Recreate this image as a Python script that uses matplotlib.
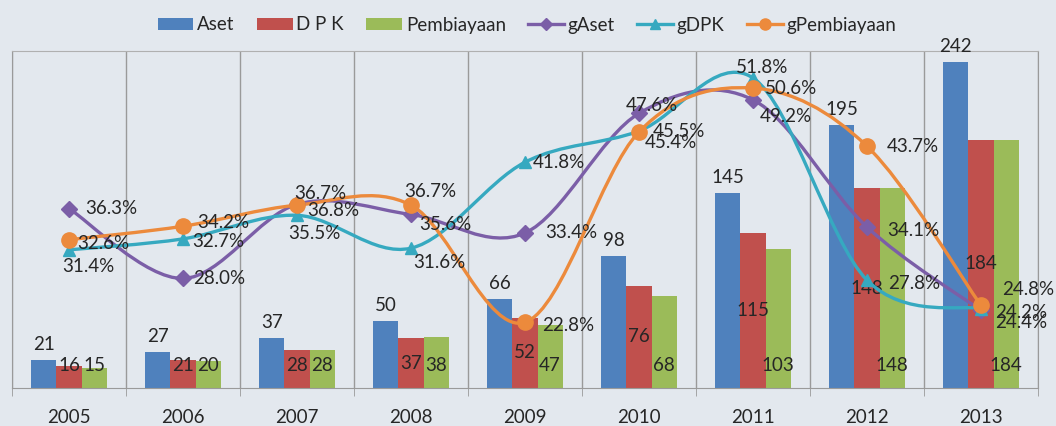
import numpy as np
import matplotlib
matplotlib.use("Agg")
import matplotlib.pyplot as plt
from matplotlib.path import Path
from matplotlib.patches import PathPatch
from matplotlib.lines import Line2D

plt.rcParams['font.family'] = ['Lato', 'DejaVu Sans']

years = ['2005', '2006', '2007', '2008', '2009', '2010', '2011', '2012', '2013']
aset = [21, 27, 37, 50, 66, 98, 145, 195, 242]
dpk = [16, 21, 28, 37, 52, 76, 115, 148, 184]
pembiayaan = [15, 20, 28, 38, 47, 68, 103, 148, 184]
g_aset = [36.3, 28.0, 36.8, 35.6, 33.4, 47.6, 49.2, 34.1, 24.2]
g_dpk = [31.4, 32.7, 35.5, 31.6, 41.8, 45.5, 51.8, 27.8, 24.4]
g_pemb = [32.6, 34.2, 36.7, 36.7, 22.8, 45.4, 50.6, 43.7, 24.8]

# label offsets in pixels (dx, dy up) and horizontal alignment
off_aset = [(16, 0, 'left'), (10, 0, 'left'), (10, -6, 'left'), (8, -10, 'left'), (20, 0, 'left'),
            (13, 8, 'center'), (7, -17, 'left'), (20, -3, 'left'), (14, -2, 'left')]
off_dpk = [(19, -17, 'center'), (9, -3, 'left'), (17, -18, 'center'), (28, -14, 'center'), (8, 0, 'left'),
           (14, 0, 'left'), (9, 10, 'center'), (21, -3, 'left'), (14, -14, 'left')]
off_pemb = [(8, -4, 'left'), (14, 4, 'left'), (23, 12, 'center'), (19, 14, 'center'), (17, -3, 'left'),
            (6, -11, 'left'), (12, 0, 'left'), (20, 0, 'left'), (21, 16, 'left')]

c_aset, c_dpk, c_pemb = '#4f81bd', '#c0504d', '#9bbb59'
c_gaset, c_gdpk, c_gpemb = '#7b5ea7', '#36a9c0', '#ec8a3c'
txt = '#262626'
fs = 13.5


def smooth_path(x, y):
    # Excel-like smoothed line: cubic Bezier through points (Catmull-Rom)
    pts = np.column_stack([x, y]).astype(float)
    n = len(pts)
    verts = [pts[0]]
    codes = [Path.MOVETO]
    for i in range(n - 1):
        p0 = pts[i - 1] if i > 0 else pts[i]
        p1, p2 = pts[i], pts[i + 1]
        p3 = pts[i + 2] if i + 2 < n else pts[i + 1]
        verts += [p1 + (p2 - p0) / 6, p2 - (p3 - p1) / 6, p2]
        codes += [Path.CURVE4] * 3
    return Path(verts, codes)


fig = plt.figure(figsize=(10.56, 4.26), dpi=100)
fig.patch.set_facecolor('#e3e8ee')
ax = fig.add_axes([12 / 1056, 1 - 388 / 426, (1038 - 12) / 1056, (388 - 51) / 426])
ax.set_facecolor('none')

x = np.arange(len(years))
w = 0.22
b1 = ax.bar(x - w, aset, w, color=c_aset, zorder=2)
b2 = ax.bar(x, dpk, w, color=c_dpk, zorder=2)
b3 = ax.bar(x + w, pembiayaan, w, color=c_pemb, zorder=2)
ax.set_xlim(-0.5, len(years) - 0.5)
ax.set_ylim(0, 250)

for xi, v in zip(x, aset):
    ax.annotate(str(v), (xi - w, v), xytext=(0, 7), textcoords='offset pixels',
                ha='center', va='bottom', fontsize=fs, color=txt, zorder=5)
for xi, v in zip(x, dpk):
    ax.text(xi, max(v / 2, 16.5), str(v), ha='center', va='center', fontsize=fs, color=txt, zorder=5)
for xi, v in zip(x, pembiayaan):
    ax.text(xi + w, 17, str(v), ha='center', va='center', fontsize=fs, color=txt, zorder=5)

ax.set_xticks(x)
ax.set_xticklabels(years, fontsize=fs, color=txt)
ax.set_xticks(np.arange(len(years) + 1) - 0.5, minor=True)
ax.tick_params(axis='x', which='major', length=0, pad=15)
ax.tick_params(axis='x', which='minor', length=6, color='#9a9a9a', direction='out')
ax.grid(axis='x', which='minor', color='#9a9a9a', linewidth=1)
ax.set_yticks([])
for s in ax.spines.values():
    s.set_color('#9a9a9a')
ax.spines['top'].set_color('#b0b0b0')

ax2 = ax.twinx()
ax2.set_ylim(15, 55)
ax2.set_yticks([])
for s in ax2.spines.values():
    s.set_visible(False)

series = [(g_aset, c_gaset, 'D', 8, off_aset),
          (g_dpk, c_gdpk, '^', 9, off_dpk),
          (g_pemb, c_gpemb, 'o', 11, off_pemb)]
for vals, col, mk, ms, offs in series:
    ax2.add_patch(PathPatch(smooth_path(x, vals), facecolor='none', edgecolor=col, lw=2.4, zorder=3))
    ax2.plot(x, vals, ls='none', marker=mk, ms=ms, color=col, zorder=4)
    for xi, v, (dx, dy, ha) in zip(x, vals, offs):
        ax2.annotate(f'{v:.1f}%', (xi, v), xytext=(dx, dy), textcoords='offset pixels',
                     ha=ha, va='center', fontsize=fs, color=txt, zorder=6)

handles = [b1, b2, b3,
           Line2D([], [], color=c_gaset, lw=2.4, marker='D', ms=6),
           Line2D([], [], color=c_gdpk, lw=2.4, marker='^', ms=7),
           Line2D([], [], color=c_gpemb, lw=2.4, marker='o', ms=8)]
labels = ['Aset', 'D P K', 'Pembiayaan', 'gAset', 'gDPK', 'gPembiayaan']
fig.legend(handles, labels, loc='center', bbox_to_anchor=(527 / 1056, 1 - 25 / 426), ncol=6,
           frameon=False, fontsize=fs, handlelength=1.9, handleheight=0.6, columnspacing=1.2,
           handletextpad=0.2, labelcolor=txt)

fig.savefig('out.png', dpi=100, facecolor=fig.get_facecolor())
